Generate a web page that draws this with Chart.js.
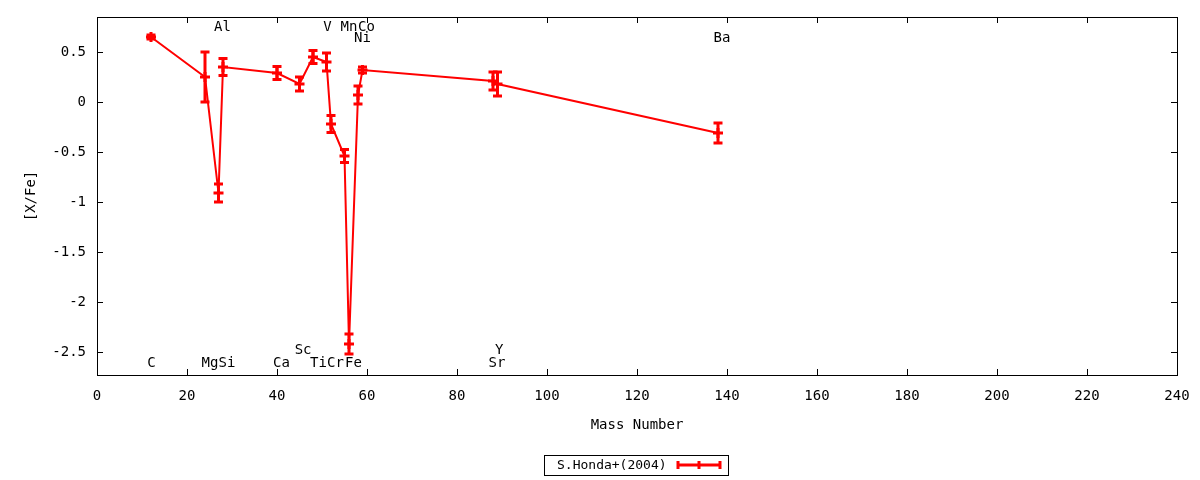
<!DOCTYPE html>
<html>
<head>
<meta charset="utf-8">
<script src="https://cdn.jsdelivr.net/npm/chart.js@4.4.1/dist/chart.umd.min.js"></script>
<style>
  html, body { margin: 0; padding: 0; background: #fff; }
  #wrap { width: 1200px; height: 480px; }
</style>
</head>
<body>
<div id="wrap"><canvas id="abund" width="1200" height="480"></canvas></div>
<script>
// ----- DATA -----
const massNumbers = [12, 24, 27, 28, 40, 45, 48, 51, 52, 55, 56, 58, 59, 88, 89, 138];
const xFeValues   = [0.65, 0.25, -0.91, 0.35, 0.29, 0.18, 0.45, 0.40, -0.22, -0.54, -2.42, 0.07, 0.32, 0.21, 0.18, -0.31];
const xFeErrors   = [0.02, 0.25, 0.09, 0.085, 0.065, 0.07, 0.065, 0.09, 0.085, 0.065, 0.1, 0.09, 0.03, 0.09, 0.12, 0.1];

const xTicks = [0, 20, 40, 60, 80, 100, 120, 140, 160, 180, 200, 220, 240];
const yTicks = [0.5, 0, -0.5, -1, -1.5, -2, -2.5];

// element names drawn inside the plot, placed in data units
const elementNames = ['C', 'Mg', 'Si', 'Al', 'Ca', 'Sc', 'Ti', 'Cr', 'Fe', 'V', 'Mn', 'Co', 'Ni', 'Sr', 'Y', 'Ba'];
const nameX = [12.1, 25.1, 28.9, 27.9, 41, 45.8, 49.2, 53, 57, 51.2, 56, 59.9, 59, 88.9, 89.4, 138.9];
const nameY = [-2.61, -2.61, -2.61, 0.745, -2.61, -2.48, -2.61, -2.61, -2.61, 0.745, 0.745, 0.745, 0.64, -2.61, -2.48, 0.64];

const seriesName = 'S.Honda+(2004)';
const RED = '#ff0000';
const FONT = '"DejaVu Sans Mono", monospace';

(function() {
  // ----- error bars -----
  const errorBars = {
    id: 'errorBars',
    afterDatasetsDraw(chart) {
      const { ctx, scales: { x, y } } = chart;
      ctx.save();
      ctx.strokeStyle = RED;
      ctx.lineWidth = 3;
      massNumbers.forEach((m, i) => {
        const px = x.getPixelForValue(m);
        const top = y.getPixelForValue(xFeValues[i] + xFeErrors[i]);
        const bot = y.getPixelForValue(xFeValues[i] - xFeErrors[i]);
        ctx.beginPath();
        ctx.moveTo(px, top); ctx.lineTo(px, bot);
        ctx.moveTo(px - 4.5, top); ctx.lineTo(px + 4.5, top);
        ctx.moveTo(px - 4.5, bot); ctx.lineTo(px + 4.5, bot);
        ctx.stroke();
      });
      ctx.restore();
    }
  };

  // ----- frame with inward ticks, element names, legend -----
  const frame = {
    id: 'frame',
    afterDraw(chart) {
      const { ctx, chartArea: a, scales: { x, y } } = chart;
      ctx.save();
      ctx.strokeStyle = '#000';
      ctx.lineWidth = 1;
      ctx.strokeRect(a.left + 0.5, a.top + 0.5, a.right - a.left, a.bottom - a.top);
      ctx.beginPath();
      xTicks.forEach(v => {
        const px = Math.round(x.getPixelForValue(v)) + 0.5;
        ctx.moveTo(px, a.bottom); ctx.lineTo(px, a.bottom - 6);
        ctx.moveTo(px, a.top); ctx.lineTo(px, a.top + 6);
      });
      yTicks.forEach(v => {
        const py = Math.round(y.getPixelForValue(v)) + 0.5;
        ctx.moveTo(a.left, py); ctx.lineTo(a.left + 6, py);
        ctx.moveTo(a.right, py); ctx.lineTo(a.right - 6, py);
      });
      ctx.stroke();

      // element names
      ctx.fillStyle = '#000';
      ctx.font = '14px ' + FONT;
      ctx.textAlign = 'center';
      ctx.textBaseline = 'middle';
      elementNames.forEach((n, i) => {
        ctx.fillText(n, x.getPixelForValue(nameX[i]), y.getPixelForValue(nameY[i]));
      });

      // legend box
      ctx.strokeRect(544.5, 455.5, 184, 20);
      ctx.font = '13px ' + FONT;
      ctx.textAlign = 'left';
      ctx.fillText(seriesName, 557, 466);
      ctx.strokeStyle = RED;
      ctx.lineWidth = 3;
      ctx.beginPath();
      ctx.moveTo(678, 465); ctx.lineTo(720, 465);
      [678, 699, 720].forEach(cx => { ctx.moveTo(cx, 461); ctx.lineTo(cx, 469); });
      ctx.stroke();
      ctx.restore();
    }
  };

  const ctx = document.getElementById('abund').getContext('2d');
  new Chart(ctx, {
    type: 'scatter',
    data: {
      datasets: [{
        label: seriesName,
        data: massNumbers.map((m, i) => ({ x: m, y: xFeValues[i] })),
        showLine: true,
        borderColor: RED,
        borderWidth: 2,
        pointStyle: 'cross',
        pointRadius: 5,
        pointBorderWidth: 3,
        pointBorderColor: RED,
        pointBackgroundColor: RED,
        pointHoverRadius: 5
      }]
    },
    options: {
      responsive: false,
      animation: false,
      devicePixelRatio: 1,
      layout: { padding: { top: 17, right: 23, left: 0, bottom: 0 } },
      plugins: {
        legend: { display: false },
        tooltip: { enabled: false }
      },
      scales: {
        x: {
          type: 'linear',
          min: 0,
          max: 240,
          grid: { display: false },
          border: { display: false },
          afterBuildTicks: s => { s.ticks = xTicks.map(v => ({ value: v })); },
          afterFit: s => { s.height = 105; },
          ticks: { color: '#000', padding: 5, maxRotation: 0, font: { family: FONT, size: 14 } },
          title: {
            display: true, text: 'Mass Number', color: '#000',
            font: { family: FONT, size: 14 }, padding: { top: 0, bottom: 46 }
          }
        },
        y: {
          type: 'linear',
          min: -2.73,
          max: 0.85,
          grid: { display: false },
          border: { display: false },
          afterBuildTicks: s => { s.ticks = yTicks.map(v => ({ value: v })); },
          afterFit: s => { s.width = 97; },
          ticks: { color: '#000', padding: 3, font: { family: FONT, size: 14 }, callback: v => String(v) },
          title: {
            display: true, text: '[X/Fe]', color: '#000',
            font: { family: FONT, size: 14 }, padding: { top: 23, bottom: 0 }
          }
        }
      }
    },
    plugins: [errorBars, frame]
  });
})();
</script>
</body>
</html>
